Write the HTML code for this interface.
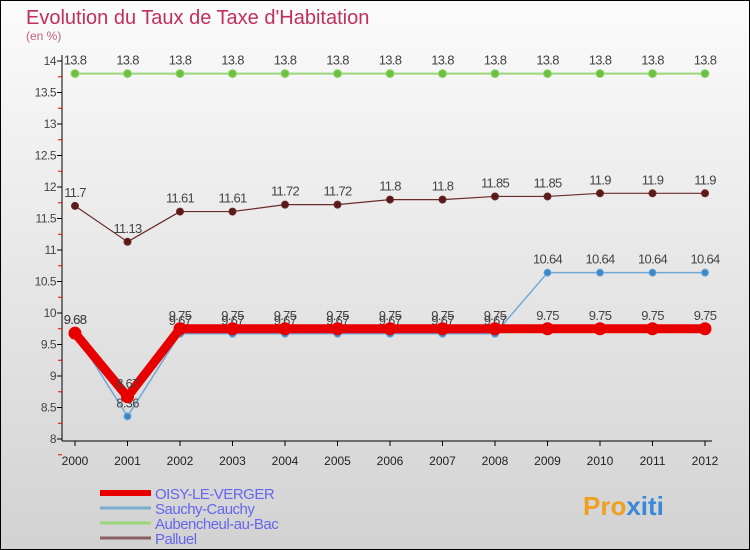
<!DOCTYPE html>
<html><head><meta charset="utf-8"><style>
body{margin:0}
#c{width:750px;height:550px;position:relative;background:linear-gradient(#fbfbfb,#d2d2d2);font-family:"Liberation Sans",sans-serif;overflow:hidden}
text{font-family:"Liberation Sans",sans-serif}
</style></head><body>
<div id="c">
<svg id="s" width="750" height="550"></svg>
</div>
<script>
const years=[2000,2001,2002,2003,2004,2005,2006,2007,2008,2009,2010,2011,2012];
const yTicks=[8,8.5,9,9.5,10,10.5,11,11.5,12,12.5,13,13.5,14];
const oisy=[9.68,8.67,9.75,9.75,9.75,9.75,9.75,9.75,9.75,9.75,9.75,9.75,9.75];
const sauchy=[9.68,8.36,9.67,9.67,9.67,9.67,9.67,9.67,9.67,10.64,10.64,10.64,10.64];
const aub=[13.8,13.8,13.8,13.8,13.8,13.8,13.8,13.8,13.8,13.8,13.8,13.8,13.8];
const pal=[11.7,11.13,11.61,11.61,11.72,11.72,11.8,11.8,11.85,11.85,11.9,11.9,11.9];
const NS='http://www.w3.org/2000/svg',s=document.getElementById('s');
const X=i=>75+i*52.5, Y=v=>439-(v-8)*63;
function el(t,a,txt){const e=document.createElementNS(NS,t);for(const k in a)e.setAttribute(k,a[k]);if(txt!=null)e.textContent=txt;s.appendChild(e);return e;}
let e;
e=el('rect',{x:0.5,y:0.5,width:749,height:549,fill:'none',stroke:'#000'});

e=el('text',{x:26,y:24,'font-size':20,fill:'#c0305a'},'Evolution du Taux de Taxe d\'Habitation');

e=el('text',{x:26,y:40,'font-size':12,fill:'#c0607a'},'(en %)');

e=el('line',{x1:62,y1:55,x2:62,y2:441,stroke:'#000'});

e=el('line',{x1:62,y1:441,x2:712,y2:441,stroke:'#000'});

yTicks.forEach(v=>{
 e=el('line',{x1:57,y1:Y(v),x2:62,y2:Y(v),stroke:'#000'});
 
 e=el('line',{x1:58,y1:Y(v)+15.75,x2:62,y2:Y(v)+15.75,stroke:'#e00'});
 
 e=el('text',{x:56,y:Y(v)+4,'font-size':12,fill:'#444','text-anchor':'end','letter-spacing':'-0.5'},String(v));
 
});
years.forEach((y,i)=>{
 e=el('line',{x1:X(i),y1:441,x2:X(i),y2:446,stroke:'#000'});
 
 e=el('text',{x:X(i),y:465,'font-size':12,fill:'#222','text-anchor':'middle'},String(y));
 
});
function series(d,name,col,w,r,mk){
 e=el('polyline',{points:d.map((v,i)=>X(i)+','+Y(v)).join(' '),fill:'none',stroke:col,'stroke-width':w,'stroke-linejoin':'round'});
 
 d.forEach((v,i)=>{
  e=el('circle',{cx:X(i),cy:Y(v),r:r,fill:mk,stroke:col,'stroke-width':1});
  
  e=el('text',{x:X(i),y:Y(v)-9,'font-size':13,fill:'#444','text-anchor':'middle','letter-spacing':'-0.7'},String(v));
  
 });
}
series(aub,'aubencheul','#9ad67a',2,4,'#6cc040');
series(pal,'palluel','#6b2a2a',1.2,3.5,'#5a1a1a');
series(sauchy,'sauchy','#6fa8d8',1.5,3.5,'#3a88c8');
series(oisy,'oisy','#e80000',9,6,'#e80000');
const leg=[['OISY-LE-VERGER','#e80000',6],['Sauchy-Cauchy','#7aaed0',3],['Aubencheul-au-Bac','#9ad67a',3],['Palluel','#8a6060',3]];
leg.forEach((l,i)=>{
 const y=493+i*15;
 e=el('line',{x1:100,y1:y,x2:151,y2:y,stroke:l[1],'stroke-width':l[2]});
 
 e=el('text',{x:155,y:y+6,'font-size':15,fill:'#6666ee','letter-spacing':'-0.5'},l[0]);
 
});
e=el('text',{x:583,y:515,'font-size':26,'font-weight':'bold',fill:'#f0a020'});

e.innerHTML='Pro<tspan fill="#3a88d8">xiti</tspan>';
</script>
</body></html>
